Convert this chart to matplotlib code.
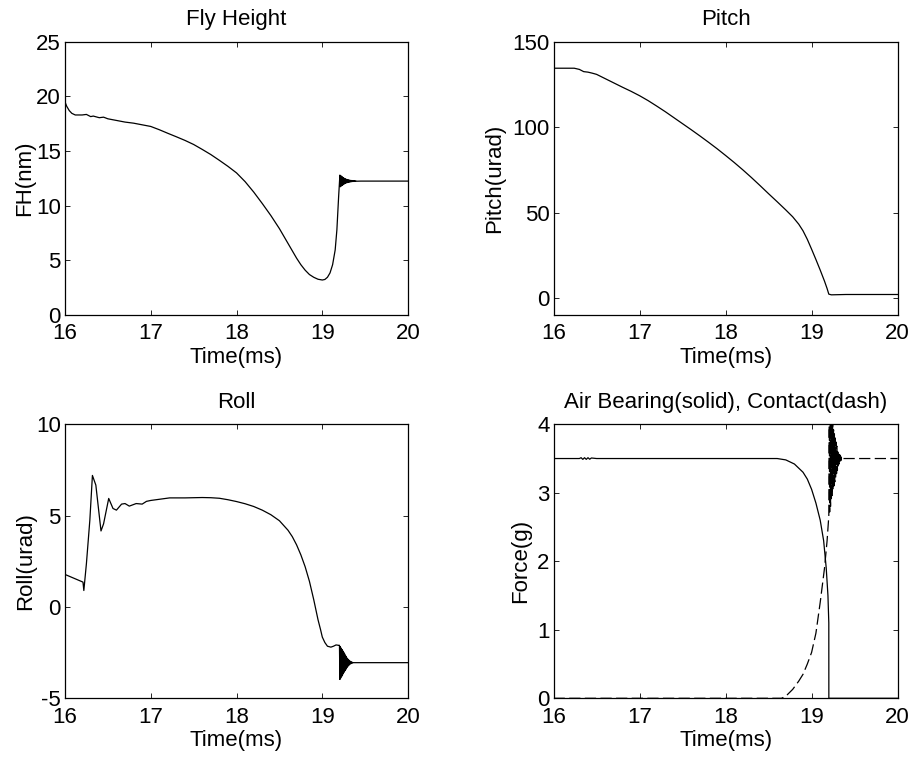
import numpy as np
import matplotlib
matplotlib.use('Agg')
import matplotlib.pyplot as plt

plt.rcParams['font.family'] = ['Liberation Sans', 'DejaVu Sans']
plt.rcParams['axes.unicode_minus'] = False

# Fly height (nm)
fh_t = [16.0, 16.02, 16.05, 16.08, 16.12, 16.2, 16.25, 16.3, 16.33, 16.4,
        16.45, 16.5, 16.6, 16.7, 16.8, 16.9, 17.0, 17.1, 17.2, 17.3, 17.4,
        17.5, 17.6, 17.7, 17.8, 17.9, 18.0, 18.1, 18.2, 18.3, 18.4, 18.5,
        18.6, 18.7, 18.75, 18.8, 18.85, 18.9, 18.95, 19.0, 19.03, 19.06,
        19.09, 19.12, 19.15, 19.17, 19.19]
fh_v = [19.5, 19.1, 18.7, 18.45, 18.3, 18.3, 18.35, 18.15, 18.2, 18.05,
        18.1, 17.95, 17.8, 17.65, 17.55, 17.4, 17.25, 16.95, 16.62, 16.3, 15.97,
        15.6, 15.15, 14.68, 14.15, 13.6, 13.0, 12.2, 11.25, 10.2, 9.1, 7.9,
        6.55, 5.2, 4.6, 4.1, 3.7, 3.45, 3.27, 3.2, 3.25, 3.45,
        3.85, 4.6, 5.95, 7.8, 10.8]
fh_burst_t = [19.205, 19.21, 19.215, 19.22, 19.225, 19.23, 19.235, 19.24,
              19.245, 19.25, 19.255, 19.26, 19.265, 19.27, 19.275, 19.28,
              19.285, 19.29, 19.295, 19.30, 19.305, 19.31, 19.315, 19.32,
              19.325, 19.33, 19.335, 19.34, 19.345, 19.35, 19.355, 19.36,
              19.365, 19.37, 19.375, 19.38, 19.385, 19.39, 19.395, 19.40,
              19.45, 20.0]
fh_burst_v = [12.80, 11.73, 12.74, 11.79, 12.68, 11.85, 12.62, 11.91,
              12.56, 11.97, 12.51, 12.01, 12.47, 12.05, 12.43, 12.09,
              12.40, 12.11, 12.38, 12.13, 12.36, 12.15, 12.34, 12.17,
              12.32, 12.185, 12.31, 12.195, 12.30, 12.205, 12.29, 12.215,
              12.28, 12.22, 12.275, 12.23, 12.27, 12.235, 12.26, 12.24,
              12.25, 12.25]

# Pitch (urad)
pitch_t = [16.0, 16.24, 16.3, 16.35, 16.4, 16.45, 16.5, 16.6, 16.7, 16.8,
           16.9, 17.0, 17.1, 17.2, 17.3, 17.4, 17.5, 17.6, 17.7, 17.8, 17.9,
           18.0, 18.1, 18.2, 18.3, 18.4, 18.5, 18.6, 18.7, 18.78, 18.85,
           18.9, 18.95, 19.0, 19.05, 19.1, 19.15, 19.18, 19.2, 19.23, 19.4,
           20.0]
pitch_v = [134.5, 134.5, 133.8, 132.5, 132.2, 131.6, 130.9, 128.4, 125.9, 123.4,
           121.0, 118.4, 115.5, 112.3, 109.0, 105.5, 102.0, 98.5, 94.9, 91.2, 87.4,
           83.4, 79.3, 75.0, 70.5, 65.8, 61.0, 56.3, 51.5, 47.5, 43.2,
           39.3, 34.3, 28.5, 22.5, 16.3, 9.8, 5.5, 2.2, 1.8, 2.0,
           2.0]

# Roll (urad)
roll_t = [16.0, 16.1, 16.21, 16.22, 16.25, 16.29, 16.32, 16.36, 16.42, 16.45,
          16.51, 16.56, 16.6, 16.66, 16.7, 16.75, 16.83, 16.9, 16.95, 17.0,
          17.11, 17.22, 17.4, 17.6, 17.7, 17.8, 17.9, 18.0, 18.1, 18.2, 18.3,
          18.4, 18.5, 18.6, 18.65, 18.7, 18.75, 18.8, 18.85, 18.9, 18.95,
          18.98, 19.0, 19.03, 19.06, 19.1, 19.13, 19.16, 19.19]
roll_v = [1.78, 1.58, 1.36, 0.9, 2.37, 4.75, 7.2, 6.67, 4.16, 4.55,
          5.94, 5.39, 5.3, 5.63, 5.66, 5.52, 5.66, 5.63, 5.78, 5.83,
          5.9, 5.97, 5.97, 5.99, 5.98, 5.95, 5.87, 5.77, 5.65, 5.5, 5.3,
          5.05, 4.72, 4.2, 3.85, 3.4, 2.85, 2.2, 1.4, 0.4, -0.7,
          -1.25, -1.65, -1.95, -2.15, -2.2, -2.15, -2.08, -2.1]
roll_burst_t = [19.200, 19.205, 19.21, 19.215, 19.22, 19.225, 19.23, 19.235,
                19.24, 19.245, 19.25, 19.255, 19.26, 19.265, 19.27, 19.275,
                19.28, 19.285, 19.29, 19.295, 19.30, 19.305, 19.31, 19.315,
                19.32, 19.325, 19.33, 19.335, 19.34, 19.345, 19.35, 19.355,
                19.36, 20.0]
roll_burst_v = [-2.10, -3.97, -2.17, -3.89, -2.25, -3.81, -2.33, -3.73,
                -2.41, -3.65, -2.49, -3.57, -2.57, -3.49, -2.65, -3.41,
                -2.73, -3.33, -2.80, -3.27, -2.86, -3.21, -2.91, -3.17,
                -2.95, -3.13, -2.99, -3.10, -3.01, -3.08, -3.03, -3.06,
                -3.05, -3.05]

# Air bearing force (g), solid
air_t = [16.0, 16.3, 16.32, 16.34, 16.36, 16.38, 16.4, 16.42, 16.44, 16.5,
         18.6, 18.7, 18.8, 18.9, 18.95, 19.0, 19.05, 19.1, 19.14, 19.17,
         19.19, 19.2, 19.2005, 20.0]
air_v = [3.5, 3.5, 3.512, 3.488, 3.512, 3.488, 3.512, 3.49, 3.508, 3.5,
         3.5, 3.48, 3.42, 3.3, 3.2, 3.05, 2.85, 2.6, 2.3, 1.9,
         1.5, 1.1, 0.0, 0.0]

# Contact force (g), dashed
con_t = [16.0, 18.65, 18.7, 18.78, 18.85, 18.9, 18.95, 19.0, 19.05, 19.1,
         19.15, 19.18, 19.200, 19.205, 19.21, 19.215, 19.22, 19.225, 19.23,
         19.235, 19.24, 19.245, 19.25, 19.255, 19.26, 19.265, 19.27, 19.275,
         19.28, 19.285, 19.29, 19.295, 19.30, 19.305, 19.31, 19.315, 19.32,
         19.325, 19.33, 19.335, 19.34, 19.345, 19.35, 19.355, 19.36, 20.0]
con_v = [0.0, 0.0, 0.03, 0.13, 0.25, 0.35, 0.5, 0.67, 0.95, 1.4,
         1.9, 2.3, 2.66, 4.32, 2.72, 4.24, 2.80, 4.16, 2.88,
         4.08, 2.96, 4.0, 3.04, 3.92, 3.1, 3.86, 3.16, 3.8,
         3.22, 3.74, 3.28, 3.68, 3.33, 3.63, 3.38, 3.59, 3.42,
         3.56, 3.45, 3.54, 3.47, 3.52, 3.49, 3.51, 3.5, 3.5]

FS = 16
LW = 0.9


def style(ax, title, ylabel, ylim, yticks, label_x):
    ax.set_xlim(16, 20)
    ax.set_ylim(*ylim)
    ax.set_xticks([16, 17, 18, 19, 20])
    ax.set_yticks(yticks)
    ax.set_title(title, fontsize=FS, pad=12)
    ax.set_xlabel('Time(ms)', fontsize=FS, labelpad=2)
    ax.set_ylabel(ylabel, fontsize=FS)
    # label_x is where the right edge of the rotated label sits
    ax.yaxis.set_label_coords(label_x, 0.5)
    ax.tick_params(direction='in', top=True, right=True, length=3.5,
                   width=0.6, labelsize=FS)
    ax.tick_params(axis='x', pad=6)
    ax.tick_params(axis='y', pad=3)
    for s in ax.spines.values():
        s.set_linewidth(0.9)


fig = plt.figure(figsize=(9.15, 7.59), dpi=100)

ax1 = fig.add_axes([0.071, 0.585, 0.375, 0.360])
ax1.plot(fh_t + fh_burst_t, fh_v + fh_burst_v, 'k-', lw=LW)
style(ax1, 'Fly Height', 'FH(nm)', (0, 25), [0, 5, 10, 15, 20, 25], -0.088)

ax2 = fig.add_axes([0.605, 0.585, 0.376, 0.360])
ax2.plot(pitch_t, pitch_v, 'k-', lw=LW)
style(ax2, 'Pitch', 'Pitch(urad)', (-10, 150), [0, 50, 100, 150], -0.142)

ax3 = fig.add_axes([0.071, 0.080, 0.375, 0.361])
ax3.plot(roll_t + roll_burst_t, roll_v + roll_burst_v, 'k-', lw=LW)
style(ax3, 'Roll', 'Roll(urad)', (-5, 10), [-5, 0, 5, 10], -0.085)

ax4 = fig.add_axes([0.605, 0.080, 0.376, 0.361])
ax4.plot(air_t, air_v, 'k-', lw=LW)
ax4.plot(con_t, con_v, 'k--', lw=LW, dashes=(9, 3.5))
style(ax4, 'Air Bearing(solid), Contact(dash)', 'Force(g)', (0, 4),
      [0, 1, 2, 3, 4], -0.064)

fig.savefig('out.png', dpi=100)
